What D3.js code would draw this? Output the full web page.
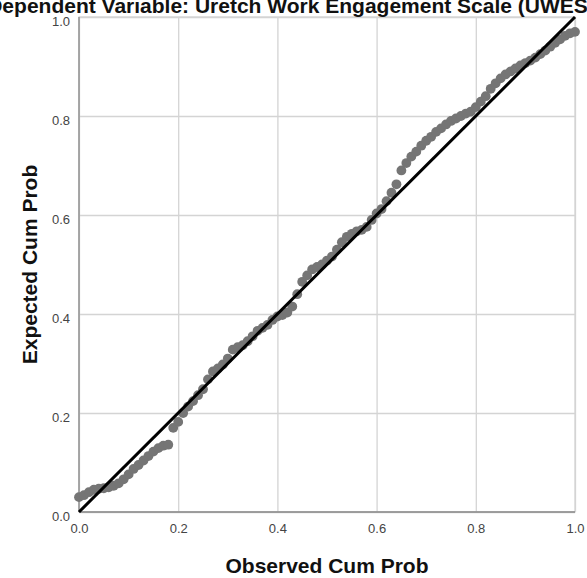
<!DOCTYPE html>
<html>
<head>
<meta charset="utf-8">
<script src="https://cdn.jsdelivr.net/npm/d3@7"></script>
<style>
  body { margin: 0; background: #fff; }
  text { font-family: Arial, "Liberation Sans", sans-serif; }
</style>
</head>
<body>
<div id="chart"></div>
<script>
// Normal P-P plot data
const titleText = "Dependent Variable: Uretch Work Engagement Scale (UWES)";
const tickValues = [0, 0.2, 0.4, 0.6, 0.8, 1.0];
const observed = [
  0.00, 0.01, 0.02, 0.03, 0.04, 0.05, 0.06, 0.07, 0.08, 0.09,
  0.10, 0.11, 0.12, 0.13, 0.14, 0.15, 0.16, 0.17, 0.18, 0.19,
  0.20, 0.21, 0.22, 0.23, 0.24, 0.25, 0.26, 0.27, 0.28, 0.29,
  0.30, 0.31, 0.32, 0.33, 0.34, 0.35, 0.36, 0.37, 0.38, 0.39,
  0.40, 0.41, 0.42, 0.43, 0.44, 0.45, 0.46, 0.47, 0.48, 0.49,
  0.50, 0.51, 0.52, 0.53, 0.54, 0.55, 0.56, 0.57, 0.58, 0.59,
  0.60, 0.61, 0.62, 0.63, 0.64, 0.65, 0.66, 0.67, 0.68, 0.69,
  0.70, 0.71, 0.72, 0.73, 0.74, 0.75, 0.76, 0.77, 0.78, 0.79,
  0.80, 0.81, 0.82, 0.83, 0.84, 0.85, 0.86, 0.87, 0.88, 0.89,
  0.90, 0.91, 0.92, 0.93, 0.94, 0.95, 0.96, 0.97, 0.98, 0.99, 1.00
];
const expected = [
  0.030, 0.034, 0.040, 0.045, 0.047, 0.048, 0.050, 0.053, 0.058, 0.066,
  0.076, 0.087, 0.095, 0.104, 0.113, 0.122, 0.129, 0.134, 0.136, 0.170,
  0.182, 0.200, 0.213, 0.224, 0.236, 0.248, 0.268, 0.284, 0.290, 0.298,
  0.310, 0.328, 0.333, 0.337, 0.345, 0.355, 0.366, 0.372, 0.378, 0.388,
  0.395, 0.398, 0.403, 0.415, 0.440, 0.465, 0.478, 0.490, 0.495, 0.500,
  0.508, 0.516, 0.530, 0.545, 0.556, 0.562, 0.567, 0.570, 0.576, 0.590,
  0.603, 0.612, 0.628, 0.645, 0.662, 0.690, 0.705, 0.718, 0.728, 0.740,
  0.750, 0.758, 0.768, 0.775, 0.783, 0.790, 0.795, 0.800, 0.805, 0.809,
  0.818, 0.829, 0.840, 0.855, 0.866, 0.876, 0.884, 0.890, 0.896, 0.902,
  0.907, 0.912, 0.918, 0.925, 0.932, 0.940, 0.948, 0.955, 0.962, 0.967, 0.970
];
const refLine = [0, 1];

var width = 587, height = 578;
var margin = { left: 79, right: 12, top: 17, bottom: 66 };
var w = width - margin.left - margin.right;
var h = height - margin.top - margin.bottom;

var svg = d3.select("#chart").append("svg")
  .attr("width", width)
  .attr("height", height);

var xScale = d3.scaleLinear().domain([0, 1]).range([0, w]);
var yScale = d3.scaleLinear().domain([0, 1]).range([h, 0]);

var chart = svg.append("g")
  .attr("transform", "translate(" + margin.left + "," + margin.top + ")");

// grid lines
chart.append("g")
  .attr("class", "xGrid")
  .attr("transform", "translate(0," + h + ")")
  .call(d3.axisBottom(xScale).tickValues(tickValues).tickSize(-h).tickFormat(""));
chart.append("g")
  .attr("class", "yGrid")
  .call(d3.axisLeft(yScale).tickValues(tickValues).tickSize(-w).tickFormat(""));
chart.selectAll(".xGrid line, .yGrid line").style("stroke", "#d4d4d4").style("stroke-width", 1.3);
chart.selectAll(".xGrid path, .yGrid path").remove();

// frame
chart.append("rect")
  .attr("width", w).attr("height", h)
  .attr("fill", "none").attr("stroke", "#d4d4d4").attr("stroke-width", 1.3);
// axes lines
chart.append("line").attr("x1", 0).attr("x2", 0).attr("y1", 0).attr("y2", h)
  .attr("stroke", "#888").attr("stroke-width", 1.3);
chart.append("line").attr("x1", 0).attr("x2", w).attr("y1", h).attr("y2", h)
  .attr("stroke", "#888").attr("stroke-width", 1.3);

// tick labels
var xAxis = chart.append("g")
  .attr("class", "xAxis")
  .attr("transform", "translate(0," + h + ")")
  .call(d3.axisBottom(xScale).tickValues(tickValues).tickSize(0).tickPadding(12).tickFormat(d3.format(".1f")));
var yAxis = chart.append("g")
  .attr("class", "yAxis")
  .call(d3.axisLeft(yScale).tickValues(tickValues).tickSize(0).tickPadding(9).tickFormat(d3.format(".1f")));
chart.selectAll(".xAxis path, .yAxis path").remove();
chart.selectAll(".xAxis text, .yAxis text")
  .style("font-size", "13px")
  .style("font-family", "Arial, 'Liberation Sans', sans-serif")
  .style("fill", "#444");
yAxis.selectAll("text").attr("dy", "0.62em");

// points
chart.append("g")
  .selectAll("circle")
  .data(observed.map((o, i) => ({ o: o, e: expected[i] })))
  .enter()
  .append("circle")
  .attr("cx", (d) => xScale(d.o))
  .attr("cy", (d) => yScale(d.e))
  .attr("r", 4.9)
  .attr("fill", "#757575");

// diagonal reference line
chart.append("line")
  .attr("x1", xScale(refLine[0])).attr("y1", yScale(refLine[0]))
  .attr("x2", xScale(refLine[1])).attr("y2", yScale(refLine[1]))
  .attr("stroke", "#000").attr("stroke-width", 3);

// titles
svg.append("text")
  .attr("x", 291).attr("y", 13)
  .attr("text-anchor", "middle")
  .style("font-size", "21px").style("font-weight", "bold").style("fill", "#111")
  .text(titleText);
svg.append("text")
  .attr("x", margin.left + w / 2).attr("y", 573)
  .attr("text-anchor", "middle")
  .style("font-size", "21px").style("font-weight", "bold").style("fill", "#111")
  .text("Observed Cum Prob");
svg.append("text")
  .attr("transform", "translate(37," + (margin.top + h / 2) + ") rotate(-90)")
  .attr("text-anchor", "middle")
  .style("font-size", "21px").style("font-weight", "bold").style("fill", "#111")
  .text("Expected Cum Prob");
</script>
</body>
</html>
